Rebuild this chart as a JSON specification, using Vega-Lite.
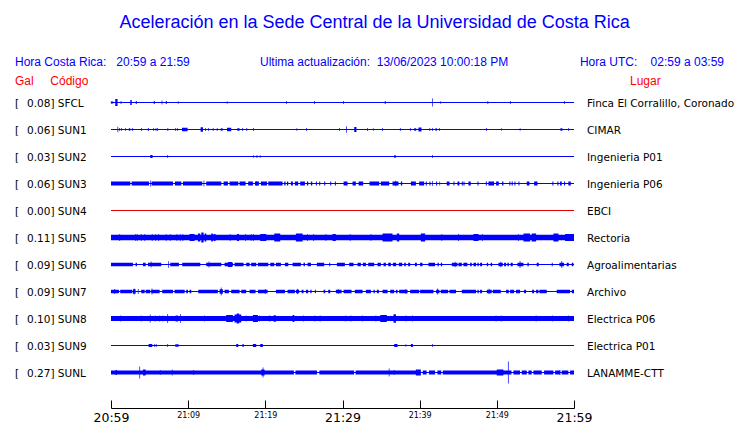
{
"$schema": "https://vega.github.io/schema/vega-lite/v6.json",
"width": 463, "height": 297,
"autosize": {"type": "none"},
"padding": {"left": 111, "top": 89, "right": 166, "bottom": 37},
"background": "white",
"config": {"view": {"stroke": null}, "font": "DejaVu Sans"},
"title": {"text": "Aceleración en la Sede Central de la Universidad de Costa Rica", "color": "#0000ff", "font": "Liberation Sans", "fontSize": 18, "fontWeight": "normal", "anchor": "middle", "frame": "bounds", "offset": 24},
"datasets": {
"st": [
{"s":"SFCL","lbl":"0.08] SFCL","lugar":"Finca El Corralillo, Coronado"},
{"s":"SUN1","lbl":"0.06] SUN1","lugar":"CIMAR"},
{"s":"SUN2","lbl":"0.03] SUN2","lugar":"Ingenieria P01"},
{"s":"SUN3","lbl":"0.06] SUN3","lugar":"Ingenieria P06"},
{"s":"SUN4","lbl":"0.00] SUN4","lugar":"EBCI"},
{"s":"SUN5","lbl":"0.11] SUN5","lugar":"Rectoria"},
{"s":"SUN6","lbl":"0.09] SUN6","lugar":"Agroalimentarias"},
{"s":"SUN7","lbl":"0.09] SUN7","lugar":"Archivo"},
{"s":"SUN8","lbl":"0.10] SUN8","lugar":"Electrica P06"},
{"s":"SUN9","lbl":"0.03] SUN9","lugar":"Electrica P01"},
{"s":"SUNL","lbl":"0.27] SUNL","lugar":"LANAMME-CTT"}
],
"b": [
{"s":"SFCL","t0":0.55,"t1":0.85,"a":7},{"s":"SFCL","t0":2.5,"t1":2.69,"a":5},{"s":"SFCL","t0":3.21,"t1":3.34,"a":3},{"s":"SFCL","t0":5.54,"t1":5.67,"a":3},{"s":"SFCL","t0":7.1,"t1":7.23,"a":3},{"s":"SFCL","t0":35.47,"t1":35.62,"a":2.5},
{"s":"SUN1","t0":2.31,"t1":2.5,"a":2.5},{"s":"SUN1","t0":4.77,"t1":4.92,"a":2.5},{"s":"SUN1","t0":5.74,"t1":5.93,"a":2},{"s":"SUN1","t0":9.2,"t1":9.92,"a":3.5},{"s":"SUN1","t0":11.61,"t1":11.92,"a":4.5},{"s":"SUN1","t0":14.22,"t1":14.46,"a":2.5},{"s":"SUN1","t0":15.03,"t1":15.58,"a":3.5},{"s":"SUN1","t0":16.36,"t1":16.66,"a":2.5},{"s":"SUN1","t0":31.52,"t1":31.81,"a":5},{"s":"SUN1","t0":33.94,"t1":34.04,"a":2.5},{"s":"SUN1","t0":39.29,"t1":39.55,"a":2.5},{"s":"SUN1","t0":39.84,"t1":40.23,"a":4},{"s":"SUN1","t0":42.05,"t1":42.23,"a":2.5},{"s":"SUN1","t0":58.24,"t1":58.5,"a":2.5},
{"s":"SUN2","t0":5.09,"t1":5.39,"a":3},{"s":"SUN2","t0":36.7,"t1":36.92,"a":2.5},
{"s":"SUN3","t0":0,"t1":2.5,"a":4},{"s":"SUN3","t0":2.67,"t1":4.92,"a":4},{"s":"SUN3","t0":5.26,"t1":8.03,"a":4},{"s":"SUN3","t0":8.28,"t1":9.11,"a":4},{"s":"SUN3","t0":9.32,"t1":11.82,"a":4},{"s":"SUN3","t0":12.34,"t1":14.29,"a":4},{"s":"SUN3","t0":14.59,"t1":15.15,"a":4},{"s":"SUN3","t0":15.37,"t1":16.49,"a":4},{"s":"SUN3","t0":16.66,"t1":17.44,"a":4},{"s":"SUN3","t0":17.78,"t1":18.39,"a":4},{"s":"SUN3","t0":18.65,"t1":19.17,"a":4},{"s":"SUN3","t0":19.42,"t1":20.21,"a":4},{"s":"SUN3","t0":20.38,"t1":22.23,"a":4},{"s":"SUN3","t0":22.45,"t1":22.62,"a":4},{"s":"SUN3","t0":22.8,"t1":22.97,"a":4},{"s":"SUN3","t0":23.31,"t1":23.57,"a":4},{"s":"SUN3","t0":23.83,"t1":24.26,"a":4},{"s":"SUN3","t0":24.52,"t1":25.13,"a":4},{"s":"SUN3","t0":25.39,"t1":25.56,"a":4},{"s":"SUN3","t0":25.9,"t1":26.08,"a":4},{"s":"SUN3","t0":26.55,"t1":26.68,"a":4},{"s":"SUN3","t0":26.98,"t1":27.11,"a":4},{"s":"SUN3","t0":27.63,"t1":27.76,"a":4},{"s":"SUN3","t0":28.41,"t1":28.54,"a":4},{"s":"SUN3","t0":29.01,"t1":29.14,"a":4},{"s":"SUN3","t0":30.14,"t1":30.65,"a":4},{"s":"SUN3","t0":31.3,"t1":31.73,"a":4},{"s":"SUN3","t0":32.08,"t1":32.68,"a":4},{"s":"SUN3","t0":33.5,"t1":34.76,"a":4},{"s":"SUN3","t0":34.97,"t1":36.05,"a":4},{"s":"SUN3","t0":36.48,"t1":37.26,"a":4},{"s":"SUN3","t0":37.56,"t1":37.74,"a":4},{"s":"SUN3","t0":38.86,"t1":39.51,"a":4},{"s":"SUN3","t0":39.94,"t1":40.58,"a":4},{"s":"SUN3","t0":40.79,"t1":40.92,"a":4},{"s":"SUN3","t0":41.27,"t1":41.4,"a":4},{"s":"SUN3","t0":42.13,"t1":42.26,"a":4},{"s":"SUN3","t0":42.56,"t1":42.65,"a":4},{"s":"SUN3","t0":43.51,"t1":43.86,"a":4},{"s":"SUN3","t0":44.38,"t1":44.51,"a":4},{"s":"SUN3","t0":44.9,"t1":45.15,"a":4},{"s":"SUN3","t0":45.46,"t1":45.59,"a":4},{"s":"SUN3","t0":45.68,"t1":45.81,"a":4},{"s":"SUN3","t0":46.32,"t1":46.62,"a":4},{"s":"SUN3","t0":47.49,"t1":47.62,"a":4},{"s":"SUN3","t0":48.57,"t1":48.7,"a":4},{"s":"SUN3","t0":48.91,"t1":49.65,"a":4},{"s":"SUN3","t0":49.9,"t1":50.25,"a":4},{"s":"SUN3","t0":50.68,"t1":50.85,"a":4},{"s":"SUN3","t0":51.63,"t1":51.76,"a":4},{"s":"SUN3","t0":51.93,"t1":52.06,"a":4},{"s":"SUN3","t0":52.28,"t1":52.41,"a":4},{"s":"SUN3","t0":52.8,"t1":52.93,"a":4},{"s":"SUN3","t0":53.88,"t1":54.22,"a":4},{"s":"SUN3","t0":54.83,"t1":55.26,"a":4},{"s":"SUN3","t0":57.2,"t1":57.33,"a":4},{"s":"SUN3","t0":57.85,"t1":57.98,"a":4},{"s":"SUN3","t0":58.19,"t1":58.41,"a":4},{"s":"SUN3","t0":58.71,"t1":58.84,"a":4},{"s":"SUN3","t0":59.27,"t1":59.58,"a":4},
{"s":"SUN5","t0":0,"t1":60,"a":5.5},{"s":"SUN5","t0":10.18,"t1":10.83,"a":7},{"s":"SUN5","t0":11.26,"t1":11.57,"a":8},{"s":"SUN5","t0":11.7,"t1":12.0,"a":10},{"s":"SUN5","t0":12.13,"t1":12.34,"a":8},{"s":"SUN5","t0":12.99,"t1":13.21,"a":8},{"s":"SUN5","t0":13.29,"t1":13.55,"a":7},{"s":"SUN5","t0":16.32,"t1":16.58,"a":7},{"s":"SUN5","t0":19.34,"t1":20.12,"a":7},{"s":"SUN5","t0":21.16,"t1":21.93,"a":8},{"s":"SUN5","t0":23.96,"t1":24.83,"a":8},{"s":"SUN5","t0":28.71,"t1":29.14,"a":7},{"s":"SUN5","t0":35.19,"t1":36.48,"a":8},{"s":"SUN5","t0":37.04,"t1":37.35,"a":8},{"s":"SUN5","t0":40.15,"t1":40.71,"a":8},{"s":"SUN5","t0":46.97,"t1":47.62,"a":7},{"s":"SUN5","t0":53.45,"t1":54.31,"a":8},{"s":"SUN5","t0":54.52,"t1":55.09,"a":8},{"s":"SUN5","t0":57.33,"t1":57.98,"a":8},{"s":"SUN5","t0":58.84,"t1":60,"a":7},
{"s":"SUN6","t0":0,"t1":2.84,"a":3.5},{"s":"SUN6","t0":3.19,"t1":3.36,"a":3.5},{"s":"SUN6","t0":4.14,"t1":4.49,"a":3.5},{"s":"SUN6","t0":4.79,"t1":6.51,"a":3.5},{"s":"SUN6","t0":7.68,"t1":8.8,"a":3.5},{"s":"SUN6","t0":9.23,"t1":11.57,"a":3.5},{"s":"SUN6","t0":12.34,"t1":14.29,"a":3.5},{"s":"SUN6","t0":14.72,"t1":15.8,"a":3.5},{"s":"SUN6","t0":15.15,"t1":15.71,"a":5},{"s":"SUN6","t0":16.01,"t1":17.18,"a":3.5},{"s":"SUN6","t0":17.52,"t1":17.96,"a":3.5},{"s":"SUN6","t0":18.17,"t1":18.82,"a":3.5},{"s":"SUN6","t0":19.04,"t1":20.38,"a":3.5},{"s":"SUN6","t0":20.64,"t1":21.16,"a":3.5},{"s":"SUN6","t0":21.37,"t1":22.02,"a":3.5},{"s":"SUN6","t0":22.54,"t1":22.97,"a":3.5},{"s":"SUN6","t0":23.53,"t1":24.61,"a":3.5},{"s":"SUN6","t0":24.95,"t1":25.13,"a":3.5},{"s":"SUN6","t0":25.47,"t1":25.91,"a":3.5},{"s":"SUN6","t0":26.68,"t1":27.63,"a":3.5},{"s":"SUN6","t0":28.28,"t1":28.41,"a":3.5},{"s":"SUN6","t0":29.27,"t1":30.31,"a":3.5},{"s":"SUN6","t0":30.87,"t1":31.43,"a":3.5},{"s":"SUN6","t0":31.95,"t1":32.38,"a":3.5},{"s":"SUN6","t0":32.64,"t1":33.03,"a":3.5},{"s":"SUN6","t0":33.33,"t1":34.11,"a":3.5},{"s":"SUN6","t0":34.54,"t1":34.97,"a":3.5},{"s":"SUN6","t0":35.32,"t1":35.62,"a":3.5},{"s":"SUN6","t0":35.92,"t1":36.27,"a":3.5},{"s":"SUN6","t0":36.53,"t1":36.96,"a":3.5},{"s":"SUN6","t0":37.3,"t1":37.74,"a":3.5},{"s":"SUN6","t0":38.0,"t1":38.21,"a":3.5},{"s":"SUN6","t0":38.51,"t1":38.77,"a":3.5},{"s":"SUN6","t0":39.38,"t1":39.64,"a":3.5},{"s":"SUN6","t0":40.06,"t1":40.37,"a":3.5},{"s":"SUN6","t0":41.14,"t1":42.0,"a":3.5},{"s":"SUN6","t0":42.31,"t1":42.48,"a":3.5},{"s":"SUN6","t0":42.74,"t1":42.91,"a":3.5},{"s":"SUN6","t0":44.16,"t1":44.9,"a":3.5},{"s":"SUN6","t0":45.03,"t1":45.46,"a":3.5},{"s":"SUN6","t0":45.67,"t1":46.19,"a":3.5},{"s":"SUN6","t0":46.54,"t1":46.75,"a":3.5},{"s":"SUN6","t0":46.97,"t1":47.31,"a":3.5},{"s":"SUN6","t0":47.49,"t1":47.66,"a":3.5},{"s":"SUN6","t0":47.83,"t1":48.09,"a":3.5},{"s":"SUN6","t0":48.7,"t1":48.87,"a":3.5},{"s":"SUN6","t0":49.21,"t1":49.39,"a":3.5},{"s":"SUN6","t0":50.21,"t1":50.77,"a":3.5},{"s":"SUN6","t0":50.94,"t1":51.2,"a":3.5},{"s":"SUN6","t0":51.37,"t1":51.55,"a":3.5},{"s":"SUN6","t0":51.8,"t1":52.06,"a":3.5},{"s":"SUN6","t0":52.67,"t1":53.45,"a":3.5},{"s":"SUN6","t0":53.96,"t1":54.14,"a":3.5},{"s":"SUN6","t0":55.17,"t1":55.43,"a":3.5},{"s":"SUN6","t0":57.12,"t1":57.24,"a":3.5},{"s":"SUN6","t0":58.11,"t1":58.71,"a":3.5},{"s":"SUN6","t0":59.06,"t1":59.32,"a":3.5},{"s":"SUN6","t0":59.71,"t1":59.92,"a":3.5},
{"s":"SUN7","t0":0,"t1":1.03,"a":3.5},{"s":"SUN7","t0":1.2,"t1":2.76,"a":3.5},{"s":"SUN7","t0":2.84,"t1":3.19,"a":4.5},{"s":"SUN7","t0":3.92,"t1":4.36,"a":3.5},{"s":"SUN7","t0":4.49,"t1":5.09,"a":3.5},{"s":"SUN7","t0":5.22,"t1":6.3,"a":3.5},{"s":"SUN7","t0":6.64,"t1":8.03,"a":3.5},{"s":"SUN7","t0":8.24,"t1":9.54,"a":3.5},{"s":"SUN7","t0":9.75,"t1":9.97,"a":3.5},{"s":"SUN7","t0":10.18,"t1":10.4,"a":3.5},{"s":"SUN7","t0":11.31,"t1":13.85,"a":3.5},{"s":"SUN7","t0":14.07,"t1":14.5,"a":4.5},{"s":"SUN7","t0":14.72,"t1":15.28,"a":3.5},{"s":"SUN7","t0":15.58,"t1":16.66,"a":3.5},{"s":"SUN7","t0":16.88,"t1":17.52,"a":3.5},{"s":"SUN7","t0":17.96,"t1":18.73,"a":3.5},{"s":"SUN7","t0":19.04,"t1":20.29,"a":3.5},{"s":"SUN7","t0":21.37,"t1":22.54,"a":3.5},{"s":"SUN7","t0":22.88,"t1":23.83,"a":3.5},{"s":"SUN7","t0":23.96,"t1":24.39,"a":3.5},{"s":"SUN7","t0":24.7,"t1":24.95,"a":3.5},{"s":"SUN7","t0":25.26,"t1":25.56,"a":3.5},{"s":"SUN7","t0":25.82,"t1":25.99,"a":3.5},{"s":"SUN7","t0":26.42,"t1":26.55,"a":3.5},{"s":"SUN7","t0":27.55,"t1":27.76,"a":3.5},{"s":"SUN7","t0":28.15,"t1":28.41,"a":3.5},{"s":"SUN7","t0":29.14,"t1":29.88,"a":3.5},{"s":"SUN7","t0":30.14,"t1":31.17,"a":3.5},{"s":"SUN7","t0":31.6,"t1":32.6,"a":3.5},{"s":"SUN7","t0":33.03,"t1":33.68,"a":3.5},{"s":"SUN7","t0":34.02,"t1":34.19,"a":3.5},{"s":"SUN7","t0":34.45,"t1":34.71,"a":3.5},{"s":"SUN7","t0":35.19,"t1":35.84,"a":3.5},{"s":"SUN7","t0":36.18,"t1":36.7,"a":3.5},{"s":"SUN7","t0":36.92,"t1":37.13,"a":3.5},{"s":"SUN7","t0":37.35,"t1":38.43,"a":3.5},{"s":"SUN7","t0":38.77,"t1":39.94,"a":3.5},{"s":"SUN7","t0":40.06,"t1":41.79,"a":3.5},{"s":"SUN7","t0":42.13,"t1":42.56,"a":3.5},{"s":"SUN7","t0":42.74,"t1":43.69,"a":3.5},{"s":"SUN7","t0":43.86,"t1":44.72,"a":3.5},{"s":"SUN7","t0":45.46,"t1":47.31,"a":3.5},{"s":"SUN7","t0":47.49,"t1":47.66,"a":3.5},{"s":"SUN7","t0":47.83,"t1":48.09,"a":3.5},{"s":"SUN7","t0":48.7,"t1":49.34,"a":3.5},{"s":"SUN7","t0":49.47,"t1":50.51,"a":3.5},{"s":"SUN7","t0":51.2,"t1":51.55,"a":3.5},{"s":"SUN7","t0":51.72,"t1":52.24,"a":3.5},{"s":"SUN7","t0":52.49,"t1":53.01,"a":3.5},{"s":"SUN7","t0":53.53,"t1":53.79,"a":3.5},{"s":"SUN7","t0":54.57,"t1":54.83,"a":3.5},{"s":"SUN7","t0":55.09,"t1":55.39,"a":3.5},{"s":"SUN7","t0":55.52,"t1":56.47,"a":3.5},{"s":"SUN7","t0":57.76,"t1":59.49,"a":3.5},{"s":"SUN7","t0":59.71,"t1":60,"a":3.5},
{"s":"SUN8","t0":0,"t1":60,"a":5},{"s":"SUN8","t0":8.37,"t1":8.67,"a":6},{"s":"SUN8","t0":14.93,"t1":15.8,"a":7},{"s":"SUN8","t0":16.01,"t1":16.88,"a":8},{"s":"SUN8","t0":16.3,"t1":16.6,"a":10},{"s":"SUN8","t0":18.39,"t1":19.04,"a":7},{"s":"SUN8","t0":20.51,"t1":20.64,"a":6},{"s":"SUN8","t0":21.07,"t1":21.37,"a":6.5},{"s":"SUN8","t0":23.53,"t1":23.75,"a":7},{"s":"SUN8","t0":34.89,"t1":35.75,"a":7},{"s":"SUN8","t0":36.61,"t1":36.92,"a":8.5},
{"s":"SUN9","t0":4.87,"t1":5.35,"a":3},{"s":"SUN9","t0":8.33,"t1":8.76,"a":2.5},{"s":"SUN9","t0":16.23,"t1":16.49,"a":3},{"s":"SUN9","t0":17.01,"t1":17.22,"a":2.5},{"s":"SUN9","t0":18.39,"t1":18.82,"a":3},{"s":"SUN9","t0":19.34,"t1":19.68,"a":3},{"s":"SUN9","t0":36.7,"t1":37.13,"a":3},{"s":"SUN9","t0":38.86,"t1":39.12,"a":3},
{"s":"SUNL","t0":0,"t1":23.7,"a":4},{"s":"SUNL","t0":23.9,"t1":26.7,"a":4},{"s":"SUNL","t0":27.0,"t1":31.5,"a":4},{"s":"SUNL","t0":31.7,"t1":40.1,"a":4},{"s":"SUNL","t0":40.4,"t1":40.9,"a":4},{"s":"SUNL","t0":41.2,"t1":42.0,"a":4},{"s":"SUNL","t0":42.3,"t1":42.8,"a":4},{"s":"SUNL","t0":43.0,"t1":51.9,"a":4},{"s":"SUNL","t0":52.15,"t1":53.01,"a":4},{"s":"SUNL","t0":53.23,"t1":53.88,"a":4},{"s":"SUNL","t0":54.09,"t1":54.52,"a":4},{"s":"SUNL","t0":54.74,"t1":55.82,"a":4},{"s":"SUNL","t0":56.12,"t1":57.33,"a":4},{"s":"SUNL","t0":57.55,"t1":58.19,"a":4},{"s":"SUNL","t0":58.41,"t1":59.27,"a":4},{"s":"SUNL","t0":59.49,"t1":60,"a":4},{"s":"SUNL","t0":0.6,"t1":0.77,"a":5},{"s":"SUNL","t0":4.14,"t1":4.49,"a":6},{"s":"SUNL","t0":19.47,"t1":19.9,"a":6},{"s":"SUNL","t0":39.51,"t1":40.15,"a":6},{"s":"SUNL","t0":49.99,"t1":50.85,"a":6}
],
"k": [
{"s":"SFCL","t":0.04,"a":3},{"s":"SFCL","t":0.23,"a":3},{"s":"SFCL","t":1.3,"a":3},{"s":"SFCL","t":6.61,"a":4},{"s":"SFCL","t":8.72,"a":2.5},{"s":"SFCL","t":15.06,"a":2.5},{"s":"SFCL","t":22.75,"a":3},{"s":"SFCL","t":26.37,"a":3},{"s":"SFCL","t":30.13,"a":3},{"s":"SFCL","t":41.66,"a":8},{"s":"SFCL","t":42.72,"a":2.5},{"s":"SFCL","t":48.83,"a":3},{"s":"SFCL","t":51.76,"a":3},{"s":"SFCL","t":58.78,"a":3},
{"s":"SUN1","t":0.88,"a":5.5},{"s":"SUN1","t":1.11,"a":3},{"s":"SUN1","t":1.37,"a":3},{"s":"SUN1","t":1.89,"a":3},{"s":"SUN1","t":2.8,"a":3},{"s":"SUN1","t":3.96,"a":3},{"s":"SUN1","t":5.52,"a":3},{"s":"SUN1","t":6.04,"a":3},{"s":"SUN1","t":7.36,"a":3},{"s":"SUN1","t":8.37,"a":3},{"s":"SUN1","t":8.63,"a":3},{"s":"SUN1","t":12.25,"a":3},{"s":"SUN1","t":12.64,"a":3},{"s":"SUN1","t":13.25,"a":3},{"s":"SUN1","t":13.77,"a":3},{"s":"SUN1","t":17.05,"a":3},{"s":"SUN1","t":17.59,"a":3},{"s":"SUN1","t":18.47,"a":3},{"s":"SUN1","t":24.07,"a":2.5},{"s":"SUN1","t":25.34,"a":3},{"s":"SUN1","t":29.61,"a":3},{"s":"SUN1","t":30.52,"a":6.5},{"s":"SUN1","t":33.24,"a":3},{"s":"SUN1","t":35.18,"a":3},{"s":"SUN1","t":37.5,"a":3},{"s":"SUN1","t":38.8,"a":3},{"s":"SUN1","t":41.3,"a":3},{"s":"SUN1","t":41.66,"a":3},{"s":"SUN1","t":42.56,"a":3},{"s":"SUN1","t":48.65,"a":3},{"s":"SUN1","t":50.6,"a":2.5},{"s":"SUN1","t":53.02,"a":2.5},{"s":"SUN1","t":59.3,"a":3},
{"s":"SUN2","t":7.33,"a":3},{"s":"SUN2","t":18.47,"a":2.5},{"s":"SUN2","t":18.91,"a":3},{"s":"SUN2","t":19.34,"a":2.5},{"s":"SUN2","t":41.66,"a":3},
{"s":"SUN3","t":5.13,"a":6},{"s":"SUN3","t":12.04,"a":6},{"s":"SUN3","t":18.91,"a":5},{"s":"SUN3","t":36.87,"a":5.5},{"s":"SUN3","t":41.66,"a":5},
{"s":"SUN5","t":1.12,"a":7},{"s":"SUN5","t":3.19,"a":7},{"s":"SUN5","t":3.41,"a":7},{"s":"SUN5","t":3.92,"a":7},{"s":"SUN5","t":4.36,"a":7},{"s":"SUN5","t":5.35,"a":7},{"s":"SUN5","t":5.78,"a":7},{"s":"SUN5","t":6.17,"a":7},{"s":"SUN5","t":7.16,"a":7},{"s":"SUN5","t":7.68,"a":7},{"s":"SUN5","t":8.54,"a":7},{"s":"SUN5","t":8.98,"a":7},{"s":"SUN5","t":9.32,"a":7},{"s":"SUN5","t":15.45,"a":7},{"s":"SUN5","t":17.44,"a":7},{"s":"SUN5","t":18.17,"a":7},{"s":"SUN5","t":18.47,"a":7},{"s":"SUN5","t":25.47,"a":7},{"s":"SUN5","t":26.25,"a":7},{"s":"SUN5","t":27.85,"a":7},{"s":"SUN5","t":31.0,"a":7},{"s":"SUN5","t":33.68,"a":7},{"s":"SUN5","t":42.87,"a":7},{"s":"SUN5","t":45.03,"a":7},{"s":"SUN5","t":48.13,"a":7},{"s":"SUN5","t":52.8,"a":7},
{"s":"SUN6","t":5.2,"a":6},{"s":"SUN6","t":7.46,"a":6.5},{"s":"SUN6","t":12.7,"a":6},{"s":"SUN6","t":15.4,"a":5},{"s":"SUN6","t":44.59,"a":5.5},{"s":"SUN6","t":50.51,"a":5.5},{"s":"SUN6","t":53.01,"a":7},{"s":"SUN6","t":58.41,"a":7},
{"s":"SUN7","t":0.47,"a":5},{"s":"SUN7","t":3.02,"a":6},{"s":"SUN7","t":3.54,"a":5},{"s":"SUN7","t":5.31,"a":6},{"s":"SUN7","t":14.29,"a":8},{"s":"SUN7","t":20.0,"a":5},{"s":"SUN7","t":24.18,"a":5.5},{"s":"SUN7","t":29.45,"a":5},{"s":"SUN7","t":38.21,"a":5},{"s":"SUN7","t":42.31,"a":6},{"s":"SUN7","t":49.0,"a":5.5},
{"s":"SUN8","t":1.25,"a":6},{"s":"SUN8","t":3.92,"a":6},{"s":"SUN8","t":5.09,"a":8},{"s":"SUN8","t":5.74,"a":6},{"s":"SUN8","t":6.3,"a":6},{"s":"SUN8","t":6.73,"a":6},{"s":"SUN8","t":7.33,"a":9},{"s":"SUN8","t":9.0,"a":9},{"s":"SUN8","t":12.13,"a":6},{"s":"SUN8","t":17.52,"a":6},{"s":"SUN8","t":19.25,"a":6},{"s":"SUN8","t":24.95,"a":6},{"s":"SUN8","t":26.42,"a":6},{"s":"SUN8","t":27.11,"a":6},{"s":"SUN8","t":30.44,"a":6},{"s":"SUN8","t":31.09,"a":6},{"s":"SUN8","t":32.6,"a":6},{"s":"SUN8","t":34.32,"a":6},{"s":"SUN8","t":38.21,"a":6},{"s":"SUN8","t":39.07,"a":6},{"s":"SUN8","t":49.9,"a":6},{"s":"SUN8","t":50.55,"a":6},{"s":"SUN8","t":55.09,"a":6},{"s":"SUN8","t":57.2,"a":6},{"s":"SUN8","t":59.27,"a":6},
{"s":"SUN9","t":5.65,"a":3},{"s":"SUN9","t":5.87,"a":3},{"s":"SUN9","t":7.33,"a":3},{"s":"SUN9","t":38.21,"a":2.5},{"s":"SUN9","t":41.66,"a":3},
{"s":"SUNL","t":3.71,"a":12},{"s":"SUNL","t":6.39,"a":5},{"s":"SUNL","t":7.94,"a":6},{"s":"SUNL","t":10.7,"a":5},{"s":"SUNL","t":19.7,"a":10},{"s":"SUNL","t":36.05,"a":8},{"s":"SUNL","t":36.7,"a":5},{"s":"SUNL","t":51.5,"a":22},{"s":"SUNL","t":58.19,"a":5}
]
},
"layer": [
{"data": {"name": "b"}, "mark": {"type": "bar", "orient": "horizontal", "color": "#0000ff"},
 "encoding": {
  "x": {"field": "t0", "type": "quantitative", "scale": {"domain": [0, 60], "nice": false, "zero": false},
   "axis": {"title": null, "values": [0,5,10,15,20,25,30,35,40,45,50,55,60], "grid": false, "offset": 22, "tickSize": -8, "labelPadding": 11, "domainColor": "#000000", "tickColor": "#000000", "labelColor": "#000000", "labelFont": "DejaVu Sans", "labelFlush": false, "labelOverlap": false, "labelBaseline": "top",
    "labelFontSize": {"condition": {"test": "datum.value % 30 == 0", "value": 12.5}, "value": 8},
    "labelExpr": "datum.value % 10 != 0 ? '' : (datum.value == 0 ? '20:59' : '21:' + (datum.value < 11 ? '0' : '') + (datum.value - 1))"}},
  "x2": {"field": "t1"},
  "y": {"field": "s", "type": "nominal", "scale": {"type": "band", "domain": ["SFCL","SUN1","SUN2","SUN3","SUN4","SUN5","SUN6","SUN7","SUN8","SUN9","SUNL"], "paddingInner": 0, "paddingOuter": 0}, "axis": null},
  "size": {"field": "a", "type": "quantitative", "scale": {"domain": [0, 30], "range": [0, 30], "zero": true}, "legend": null}
 }},
{"data": {"name": "st"}, "mark": {"type": "rule", "strokeWidth": 1},
 "encoding": {
  "x": {"datum": 0, "type": "quantitative"},
  "x2": {"datum": 60},
  "y": {"field": "s", "type": "nominal", "axis": null},
  "color": {"condition": {"test": "datum.s == 'SUN4'", "value": "#e00000"}, "value": "#0000ff"}
 }},
{"data": {"name": "k"}, "mark": {"type": "tick", "thickness": 1, "color": "#0000ff"},
 "encoding": {
  "x": {"field": "t", "type": "quantitative", "title": null},
  "y": {"field": "s", "type": "nominal", "axis": null},
  "size": {"field": "a", "type": "quantitative", "legend": null}
 }},
{"data": {"name": "st"}, "mark": {"type": "text", "text": "[", "align": "left", "baseline": "middle", "dx": -96, "dy": 1, "font": "DejaVu Sans", "fontSize": 10.5, "color": "#000000"},
 "encoding": {"x": {"datum": 0, "type": "quantitative"}, "y": {"field": "s", "type": "nominal", "axis": null}}},
{"data": {"name": "st"}, "mark": {"type": "text", "align": "left", "baseline": "middle", "dx": -84, "dy": 1, "font": "DejaVu Sans", "fontSize": 10.5, "color": "#000000"},
 "encoding": {"x": {"datum": 0, "type": "quantitative"}, "y": {"field": "s", "type": "nominal", "axis": null}, "text": {"field": "lbl"}}},
{"data": {"name": "st"}, "mark": {"type": "text", "align": "left", "baseline": "middle", "dx": 13, "dy": 1, "font": "DejaVu Sans", "fontSize": 10.5, "color": "#000000"},
 "encoding": {"x": {"datum": 60, "type": "quantitative"}, "y": {"field": "s", "type": "nominal", "axis": null}, "text": {"field": "lugar"}}},
{"data": {"values": [{"txt": "Hora Costa Rica:\u00a0\u00a0\u00a020:59 a 21:59"}]}, "mark": {"type": "text", "align": "left", "baseline": "alphabetic", "dx": -96, "dy": -36.5, "font": "Liberation Sans", "fontSize": 12, "color": "#0000ff"},
 "encoding": {"x": {"datum": 0, "type": "quantitative"}, "y": {"datum": "SFCL", "type": "nominal"}, "text": {"field": "txt"}}},
{"data": {"values": [{"txt": "Ultima actualización:\u00a0\u00a013/06/2023 10:00:18 PM"}]}, "mark": {"type": "text", "align": "left", "baseline": "alphabetic", "dx": 149, "dy": -36.5, "font": "Liberation Sans", "fontSize": 12, "color": "#0000ff"},
 "encoding": {"x": {"datum": 0, "type": "quantitative"}, "y": {"datum": "SFCL", "type": "nominal"}, "text": {"field": "txt"}}},
{"data": {"values": [{"txt": "Hora UTC:\u00a0\u00a0\u00a0\u00a002:59 a 03:59"}]}, "mark": {"type": "text", "align": "right", "baseline": "alphabetic", "dx": 150, "dy": -36.5, "font": "Liberation Sans", "fontSize": 12, "color": "#0000ff"},
 "encoding": {"x": {"datum": 60, "type": "quantitative"}, "y": {"datum": "SFCL", "type": "nominal"}, "text": {"field": "txt"}}},
{"data": {"values": [{"txt": "Gal\u00a0\u00a0\u00a0\u00a0\u00a0Código"}]}, "mark": {"type": "text", "align": "left", "baseline": "alphabetic", "dx": -96, "dy": -17.5, "font": "Liberation Sans", "fontSize": 12, "color": "#ff0000"},
 "encoding": {"x": {"datum": 0, "type": "quantitative"}, "y": {"datum": "SFCL", "type": "nominal"}, "text": {"field": "txt"}}},
{"data": {"values": [{"txt": "Lugar"}]}, "mark": {"type": "text", "align": "left", "baseline": "alphabetic", "dx": 56, "dy": -17.5, "font": "Liberation Sans", "fontSize": 12, "color": "#ff0000"},
 "encoding": {"x": {"datum": 60, "type": "quantitative"}, "y": {"datum": "SFCL", "type": "nominal"}, "text": {"field": "txt"}}}
]
}
